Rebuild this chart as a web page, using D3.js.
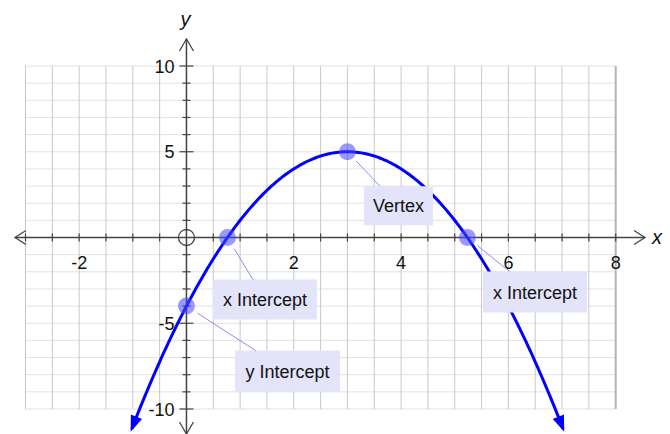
<!DOCTYPE html>
<html>
<head>
<meta charset="utf-8">
<script src="https://cdn.jsdelivr.net/npm/d3@7"></script>
<style>
  html, body { margin: 0; padding: 0; background: #fff; }
  svg { display: block; font-family: "Liberation Sans", Arial, sans-serif; }
</style>
</head>
<body>
<svg id="chart" width="670" height="434"></svg>
<script>
// y = a*x^2 + b*x + c
const coeffs = [-1, 6, -4];
const curveDomain = [-1.02, 7.02];

const pointLabels = ["Vertex", "x Intercept", "x Intercept", "y Intercept"];
const pointX = [3, 0.764, 5.236, 0];
const pointY = [5, 0, 0, -4];

const xTickLabels = [-2, 2, 4, 6, 8];
const yTickLabels = [-10, -5, 5, 10];

// label box layout (pixel offset of box centre from its point, box size)
const boxLayout = [
  { dx: 51, dy: 54, w: 69, h: 39 },
  { dx: 37.5, dy: 62, w: 104, h: 40 },
  { dx: 67.6, dy: 54.5, w: 104, h: 41 },
  { dx: 101, dy: 65, w: 105, h: 41 }
];

const svg = d3.select("#chart");

const x = d3.scaleLinear().domain([-3, 8]).range([25.5, 615.7]);
const y = d3.scaleLinear().domain([-10, 10]).range([409, 66]);

// grid
const grid = svg.append("g");
grid.selectAll("line.h")
  .data(d3.range(-10, 11, 1))
  .join("line")
  .attr("x1", x(-3)).attr("x2", x(8))
  .attr("y1", d => y(d)).attr("y2", d => y(d))
  .attr("stroke", "#c4c4c4")
  .attr("stroke-width", 1)
  .attr("stroke-dasharray", "1,1");

grid.selectAll("line.v")
  .data(d3.range(-3, 8.01, 0.5))
  .join("line")
  .attr("x1", d => x(d)).attr("x2", d => x(d))
  .attr("y1", y(10)).attr("y2", y(-10))
  .attr("stroke", d => d === 8 ? "#b4b4b4" : "#c8c8c8")
  .attr("stroke-width", d => d === 8 ? 2 : 1);

// axes
const axisColor = "#444";
const axes = svg.append("g").attr("stroke", axisColor).attr("fill", "none");
axes.append("line")
  .attr("x1", 15).attr("x2", 645)
  .attr("y1", y(0)).attr("y2", y(0))
  .attr("stroke-width", 1.5);
axes.append("line")
  .attr("x1", x(0)).attr("x2", x(0))
  .attr("y1", 39).attr("y2", 434)
  .attr("stroke-width", 1.5);

// open arrow heads
axes.append("path").attr("d", `M${15 + 11},${y(0) - 7} L15,${y(0)} L${15 + 11},${y(0) + 7}`).attr("stroke-width", 1.3);
axes.append("path").attr("d", `M${645 - 11},${y(0) - 7} L645,${y(0)} L${645 - 11},${y(0) + 7}`).attr("stroke-width", 1.3);
axes.append("path").attr("d", `M${x(0) - 7},${39 + 12} L${x(0)},39 L${x(0) + 7},${39 + 12}`).attr("stroke-width", 1.3);
axes.append("path").attr("d", `M${x(0) - 7},${434 - 12} L${x(0)},434 L${x(0) + 7},${434 - 12}`).attr("stroke-width", 1.3);

// ticks
axes.selectAll("line.xt")
  .data(d3.range(-3, 8.01, 0.5).filter(d => d !== 0))
  .join("line")
  .attr("x1", d => x(d)).attr("x2", d => x(d))
  .attr("y1", y(0) - 4).attr("y2", y(0) + 4)
  .attr("stroke-width", 1.2);
axes.selectAll("line.yt")
  .data(d3.range(-10, 11, 1).filter(d => d !== 0))
  .join("line")
  .attr("x1", d => x(0) - (d % 5 === 0 ? 7 : 4))
  .attr("x2", d => x(0) + (d % 5 === 0 ? 7 : 4))
  .attr("y1", d => y(d)).attr("y2", d => y(d))
  .attr("stroke-width", 1.2);

// origin circle
axes.append("circle")
  .attr("cx", x(0)).attr("cy", y(0)).attr("r", 8)
  .attr("stroke-width", 1.3);

// tick labels
svg.append("g").selectAll("text")
  .data(xTickLabels)
  .join("text")
  .attr("x", d => x(d)).attr("y", y(0) + 31)
  .attr("text-anchor", "middle")
  .attr("font-size", 18)
  .attr("fill", "#111")
  .text(d => d);

svg.append("g").selectAll("text")
  .data(yTickLabels)
  .join("text")
  .attr("x", x(0) - 12).attr("y", d => y(d) + 6.5)
  .attr("text-anchor", "end")
  .attr("font-size", 18)
  .attr("fill", "#111")
  .text(d => d);

// axis names
svg.append("text").attr("x", x(0) - 1).attr("y", 26)
  .attr("text-anchor", "middle").attr("font-size", 20).attr("font-style", "italic")
  .attr("fill", "#111").text("y");
svg.append("text").attr("x", 652).attr("y", y(0) + 6)
  .attr("font-size", 20).attr("font-style", "italic")
  .attr("fill", "#111").text("x");

// curve
const f = t => coeffs[0] * t * t + coeffs[1] * t + coeffs[2];
const samples = d3.range(curveDomain[0], curveDomain[1] + 1e-9, (curveDomain[1] - curveDomain[0]) / 200);
const line = d3.line().x(d => x(d)).y(d => y(f(d)));
svg.append("path")
  .datum(samples)
  .attr("d", line)
  .attr("fill", "none")
  .attr("stroke", "#0000ff")
  .attr("stroke-width", 3);

// filled arrow heads at curve ends
function arrowAt(t0, t1) {
  const px = x(t1), py = y(f(t1));
  const qx = x(t0), qy = y(f(t0));
  const a = Math.atan2(py - qy, px - qx);
  const len = 13, half = 6;
  const bx = px - len * Math.cos(a), by = py - len * Math.sin(a);
  const nx = -Math.sin(a), ny = Math.cos(a);
  svg.append("path")
    .attr("d", `M${px + 3 * Math.cos(a)},${py + 3 * Math.sin(a)} L${bx + half * nx},${by + half * ny} L${bx - half * nx},${by - half * ny} Z`)
    .attr("fill", "#0000ff");
}
arrowAt(curveDomain[0] + 0.05, curveDomain[0]);
arrowAt(curveDomain[1] - 0.05, curveDomain[1]);

// points, leaders, label boxes
const pts = pointLabels.map((label, i) => ({ label, px: x(pointX[i]), py: y(pointY[i]), box: boxLayout[i] }));

const ann = svg.append("g");
ann.selectAll("line")
  .data(pts)
  .join("line")
  .attr("x1", d => { const L = Math.hypot(d.box.dx, d.box.dy); return d.px + 13 * d.box.dx / L; })
  .attr("y1", d => { const L = Math.hypot(d.box.dx, d.box.dy); return d.py + 13 * d.box.dy / L; })
  .attr("x2", d => d.px + d.box.dx)
  .attr("y2", d => d.py + d.box.dy)
  .attr("stroke", "#8c8cf5")
  .attr("stroke-width", 1);

ann.selectAll("circle")
  .data(pts)
  .join("circle")
  .attr("cx", d => d.px).attr("cy", d => d.py).attr("r", 8.5)
  .attr("fill", "rgba(70,70,255,0.55)");

ann.selectAll("rect")
  .data(pts)
  .join("rect")
  .attr("x", d => d.px + d.box.dx - d.box.w / 2)
  .attr("y", d => d.py + d.box.dy - d.box.h / 2)
  .attr("width", d => d.box.w)
  .attr("height", d => d.box.h)
  .attr("fill", "#e3e3fa");

ann.selectAll("text")
  .data(pts)
  .join("text")
  .attr("x", d => d.px + d.box.dx)
  .attr("y", d => d.py + d.box.dy + 6.5)
  .attr("text-anchor", "middle")
  .attr("font-size", 18)
  .attr("fill", "#111")
  .text(d => d.label);
</script>
</body>
</html>
